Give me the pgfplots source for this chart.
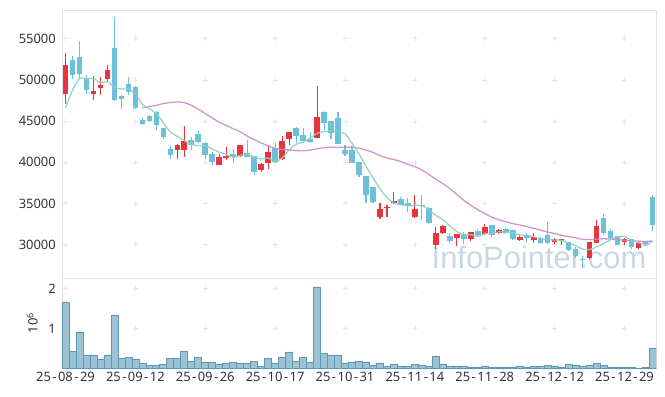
\documentclass[border=0pt]{standalone}
\usepackage{pgfplots}
\pgfplotsset{compat=1.18}
\usepackage{pgfplotstable}
\usepackage{fontspec}
\setmainfont{Noto Sans}
\newfontfamily\wmfont{Liberation Sans}
\definecolor{upc}{RGB}{232,52,58}
\definecolor{dnc}{RGB}{108,192,218}
\definecolor{maA}{RGB}{140,206,196}
\definecolor{maB}{RGB}{204,138,200}
\definecolor{volf}{RGB}{155,195,212}
\definecolor{vole}{RGB}{95,152,180}
\definecolor{framec}{RGB}{226,226,226}
\definecolor{gridc}{RGB}{228,228,228}
\definecolor{txt}{RGB}{51,51,51}
\definecolor{wm}{RGB}{198,216,228}
\newcommand{\hy}{\makebox[0.55em]{-}}

\pgfplotstableread{
i o h l c
0 48340 53290 47120 51870
4 48340 50450 47530 48670
5 49070 50370 48140 49440
6 50170 51790 49840 51180
16 41520 42250 40350 42090
17 41520 44370 40590 42540
22 39700 41000 39700 40590
23 40510 41810 40270 40750
25 40750 42090 40670 42090
28 39050 39860 38850 39780
29 39940 42090 39130 41280
31 40350 43190 40270 42580
32 42860 43720 42090 43720
36 42990 49280 42990 45500
45 33370 34990 33160 34300
46 34380 34790 33370 34580
47 34990 36410 34910 35270
50 33370 36000 33280 34300
53 30000 32150 29510 31340
54 31340 32350 31250 32230
56 30850 31250 29790 31250
58 30610 31540 30440 31540
60 31250 32550 31130 32150
62 31340 31940 31250 31740
65 30520 31130 30440 30930
67 30520 31460 30200 30930
70 30280 30850 30120 30610
71 30400 30730 29920 30610
75 28410 30320 28290 30280
76 30240 33040 30240 32230
80 30280 30850 29920 30610
82 29630 30320 29510 30200
}\upT

\pgfplotstableread{
i o h l c
1 52480 52930 50170 50660
2 52810 54720 50170 50780
3 50170 50580 48260 48830
7 53900 57680 47450 47530
8 48060 48140 46520 47650
9 49480 50330 48140 48550
10 49150 49280 46430 46600
11 45140 45380 44490 44690
12 45580 45700 44890 45060
13 46110 46190 43960 44570
14 44160 44200 42780 43110
15 41650 41970 40350 40910
18 42700 43070 41440 42130
19 43430 43800 42300 42460
20 42320 42400 40450 40910
21 41000 41280 39620 40020
24 41000 41560 39940 40670
26 41120 42700 40590 40670
27 40750 40750 38480 38800
30 41690 42300 39940 40060
33 44120 44320 42300 43230
34 43310 44200 42500 42620
35 42780 43720 42380 42460
37 46110 46230 43920 44810
38 45010 45010 42780 43590
39 45340 46150 42210 42210
40 41480 42090 40750 41000
41 41480 41970 39940 39940
42 40060 40060 38240 38440
43 38320 38320 35070 36000
44 37020 37020 34990 35190
48 35520 35720 34790 34790
49 34990 35600 33970 34660
51 34780 36000 33040 34720
52 34380 34580 32550 32630
55 31010 31340 30200 30440
57 31250 31540 30040 30610
59 31620 31940 31010 31130
61 32350 32350 30930 31130
63 31860 32030 31250 31420
64 31740 31820 30520 30610
66 31210 31340 30280 30810
68 30850 30930 30120 30200
69 31130 32680 30120 30200
72 30320 30320 29230 29310
73 29430 29710 28410 28580
74 28290 28580 27200 28170
77 33280 33650 31130 31340
78 31660 31940 30730 30810
79 31010 31010 29920 29920
81 30610 30730 29510 29710
83 30280 30280 29790 30120
84 35720 36000 31660 32430
}\dnT

\pgfplotstableread{
i m
0 46600
1 48750
2 50170
3 50170
4 50161
5 49674
6 49779
7 49130
8 48894
9 48870
10 48302
11 47003
12 46508
13 45891
14 44803
15 43666
16 43147
17 42644
18 42156
19 42027
20 42027
21 41613
22 41223
23 40947
24 40590
25 40825
26 40955
27 40598
28 40403
29 40525
30 40119
31 40501
32 41483
33 42173
34 42441
35 42920
36 43505
37 43724
38 43797
39 43716
40 43423
41 42311
42 41037
43 39518
44 38114
45 36774
46 35703
47 35069
48 34826
49 34720
50 34720
51 34744
52 34216
53 33526
54 33039
55 32268
56 31579
57 31173
58 31213
59 30994
60 31335
61 31311
62 31538
63 31514
64 31408
65 31165
66 31100
67 30938
68 30694
69 30613
70 30548
71 30508
72 30183
73 29858
74 29452
75 29387
76 29714
77 30120
78 30566
79 30915
80 30980
81 30477
82 30250
83 29912
84 30412
}\maAT

\pgfplotstableread{
i m
11 46600
12 46760
13 46920
14 47125
15 47250
16 47330
17 47250
18 46920
19 46465
20 45917
21 45385
22 44876
23 44472
24 44072
25 43705
26 43179
27 42743
28 42349
29 41986
30 41659
31 41554
32 41487
33 41420
34 41396
35 41473
36 41643
37 41757
38 41830
39 41818
40 41822
41 41818
42 41710
43 41473
44 41199
45 40809
46 40505
47 40328
48 40079
49 39748
50 39460
51 39066
52 38511
53 37917
54 37397
55 36796
56 36084
57 35374
58 34771
59 34217
60 33774
61 33334
62 32999
63 32770
64 32541
65 32372
66 32183
67 31966
68 31737
69 31514
70 31329
71 31124
72 30958
73 30820
74 30617
75 30609
76 30658
77 30694
78 30658
79 30597
80 30520
81 30449
82 30422
83 30357
84 30448
}\maBT

\pgfplotstableread{
i v
0 1.671
1 0.413
2 0.911
3 0.329
4 0.329
5 0.228
6 0.329
7 1.342
8 0.253
9 0.278
10 0.228
11 0.127
12 0.076
13 0.076
14 0.101
15 0.253
16 0.253
17 0.430
18 0.177
19 0.278
20 0.152
21 0.152
22 0.101
23 0.127
24 0.152
25 0.127
26 0.127
27 0.177
28 0.051
29 0.253
30 0.127
31 0.278
32 0.405
33 0.177
34 0.278
35 0.152
36 2.051
37 0.380
38 0.329
39 0.329
40 0.127
41 0.152
42 0.177
43 0.152
44 0.076
45 0.127
46 0.051
47 0.101
48 0.051
49 0.051
50 0.101
51 0.076
52 0.051
53 0.304
54 0.101
55 0.051
56 0.051
57 0.051
58 0.025
59 0.025
60 0.051
61 0.025
62 0.025
63 0.025
64 0.025
65 0.051
66 0.025
67 0.051
68 0.051
69 0.076
70 0.051
71 0.025
72 0.101
73 0.076
74 0.051
75 0.076
76 0.127
77 0.076
78 0.025
79 0.025
80 0.025
81 0.025
82 0.004
83 0.020
84 0.506
}\volT

\pgfplotsset{
  common/.style={
    scale only axis, width=594bp,
    xmin=-0.5, xmax=84.5,
    xtick={0,10,...,80},
    scaled y ticks=false, scaled x ticks=false,
    major tick length=0pt,
    axis line style={draw=framec, line width=0.8bp},
    tick label style={font=\fontsize{13}{15}\selectfont, text=txt},
    yticklabel style={inner sep=0pt, xshift=-6bp},
    xticklabel style={inner sep=0pt, yshift=-4bp},
    grid=major,
    y grid style={draw=gridc, line width=0.8bp, dash pattern=on 5bp off 64.88bp, dash phase=68.88bp},
  },
}

\begin{document}
\begin{tikzpicture}
\begin{axis}[common, name=price, at={(0,0)}, anchor=north west,
  height=268bp, ymin=25930, ymax=58500,
  xticklabels={},
  ytick={30000,35000,40000,45000,50000,55000},
  yticklabels={30000,35000,40000,45000,50000,55000},
  x grid style={draw=gridc, line width=0.8bp, dash pattern=on 5bp off 36.14bp, dash phase=10.14bp},
]
\node[anchor=base, text=wm, font=\wmfont\fontsize{31}{31}\selectfont, inner sep=0pt] at (rel axis cs:0.803,0.037) {InfoPointer.com};
% wicks
\addplot[draw=none, mark=none, forget plot,
  error bars/.cd, y dir=plus, y explicit, error mark=none,
  error bar style={draw=upc, line width=1.1bp}]
  table[x=i, y=l, y error plus expr={\thisrow{h}-\thisrow{l}}] {\upT};
\addplot[draw=none, mark=none, forget plot,
  error bars/.cd, y dir=plus, y explicit, error mark=none,
  error bar style={draw=dnc, line width=1.1bp}]
  table[x=i, y=l, y error plus expr={\thisrow{h}-\thisrow{l}}] {\dnT};
% bodies
\addplot[draw=none, mark=none, forget plot,
  error bars/.cd, y dir=plus, y explicit, error mark=none,
  error bar style={draw=upc, line width=5.6bp}]
  table[x=i, y expr={min(\thisrow{o},\thisrow{c})}, y error plus expr={max(abs(\thisrow{c}-\thisrow{o}),90)}] {\upT};
\addplot[draw=none, mark=none, forget plot,
  error bars/.cd, y dir=plus, y explicit, error mark=none,
  error bar style={draw=dnc, line width=5.6bp}]
  table[x=i, y expr={min(\thisrow{o},\thisrow{c})}, y error plus expr={max(abs(\thisrow{c}-\thisrow{o}),90)}] {\dnT};
% moving averages
\addplot[maB, line width=1.3bp, opacity=0.9, smooth, mark=none] table[x=i, y=m] {\maBT};
\addplot[maA, line width=1.3bp, opacity=0.9, smooth, mark=none] table[x=i, y=m] {\maAT};
\end{axis}

\begin{axis}[common, name=vol, at={(price.south west)}, anchor=north west,
  height=90bp, ymin=0, ymax=2.275,
  xticklabels={25\hy08\hy29,25\hy09\hy12,25\hy09\hy26,25\hy10\hy17,25\hy10\hy31,25\hy11\hy14,25\hy11\hy28,25\hy12\hy12,25\hy12\hy29},
  ytick={1,2}, yticklabels={1,2},
  ylabel={10\textsuperscript{6}},
  ylabel style={at={(axis description cs:-0.05,0.5)}, anchor=center, font=\fontsize{13}{15}\selectfont, text=txt},
  x grid style={draw=gridc, line width=0.8bp, dash pattern=on 5bp off 34.56bp, dash phase=2.5bp},
]
\addplot[ybar, bar width=1, fill=volf, draw=vole, line width=0.7bp] table[x=i, y=v] {\volT};
\end{axis}

\pgfresetboundingbox
\path[use as bounding box] ([xshift=-62bp, yshift=10bp]price.north west) rectangle ([xshift=9bp, yshift=-28bp]vol.south east);
\end{tikzpicture}
\end{document}
